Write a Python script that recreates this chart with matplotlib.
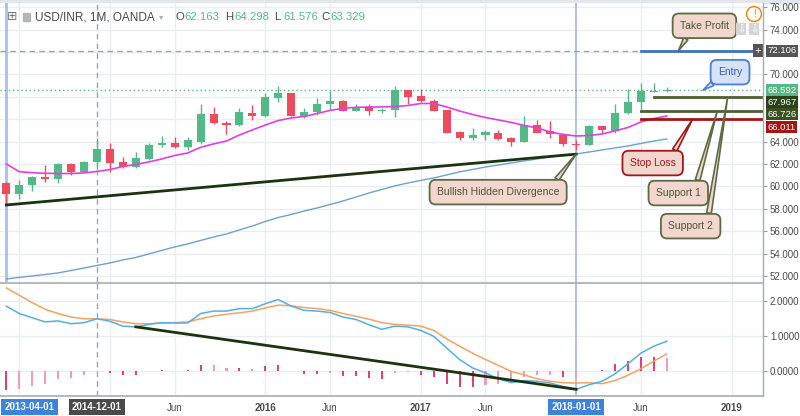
import numpy as np
import pandas as pd
import matplotlib
matplotlib.use("Agg")
import matplotlib.pyplot as plt
from matplotlib.lines import Line2D
from matplotlib.patches import Rectangle

plt.rcParams["font.family"] = ["Liberation Sans", "DejaVu Sans"]

# USD/INR monthly candles, 2014-05 .. 2018-08
opens = [60.33, 59.32, 60.10, 60.87, 60.63, 62.03, 61.30, 62.163, 63.30, 62.15,
         61.70, 62.45, 63.70, 63.90, 63.50, 64.00, 66.45, 65.70, 65.45, 66.55,
         66.25, 67.90, 68.30, 66.30, 66.60, 67.40, 67.65, 66.75, 67.10, 66.70,
         66.80, 68.60, 68.10, 67.60, 66.80, 64.85, 64.35, 64.55, 64.80, 64.30,
         64.00, 65.50, 64.90, 64.60, 63.75, 63.70, 65.35, 64.95, 66.55, 67.50,
         68.45, 68.50]
highs = [60.40, 60.60, 60.95, 61.90, 62.05, 62.10, 62.30, 64.298, 63.90, 62.60,
         63.10, 63.85, 64.50, 64.45, 64.45, 67.40, 67.05, 65.80, 67.00, 67.30,
         68.30, 69.00, 68.35, 67.00, 67.85, 68.55, 67.75, 67.40, 67.40, 67.00,
         68.95, 68.65, 68.70, 67.80, 66.85, 64.90, 65.25, 65.00, 65.00, 64.45,
         66.25, 65.90, 65.80, 64.75, 64.15, 65.45, 65.40, 67.40, 68.70, 69.20,
         69.20, 68.90]
lows = [58.34, 58.85, 59.60, 60.40, 60.30, 61.00, 61.25, 61.576, 61.30, 61.65,
        61.65, 62.35, 63.50, 63.40, 63.25, 63.80, 65.60, 64.70, 65.35, 65.90,
        66.20, 67.50, 66.25, 66.10, 66.40, 66.80, 66.70, 66.70, 66.40, 66.55,
        66.20, 67.40, 67.55, 66.70, 64.75, 64.10, 64.15, 64.15, 64.15, 63.60,
        63.95, 64.75, 64.30, 63.60, 63.25, 63.65, 64.75, 64.75, 66.50, 66.70,
        68.40, 68.40]
closes = [59.32, 60.10, 60.87, 60.63, 62.00, 61.30, 62.20, 63.329, 62.10, 61.70,
          62.50, 63.70, 63.90, 63.50, 64.10, 66.45, 65.70, 65.45, 66.60, 66.25,
          67.95, 68.30, 66.30, 66.60, 67.40, 67.65, 66.75, 67.10, 66.70, 66.80,
          68.65, 68.00, 67.60, 66.75, 64.80, 64.35, 64.60, 64.85, 64.20, 64.00,
          65.50, 64.80, 64.65, 63.75, 63.70, 65.40, 65.05, 66.55, 67.55, 68.55,
          68.50, 68.592]
ma_fast = [62.00, 61.31, 61.22, 61.17, 61.15, 61.15, 61.20, 61.33, 61.50, 61.78,
           61.96, 62.18, 62.45, 62.76, 62.98, 63.49, 63.79, 64.05, 64.59, 65.04,
           65.48, 65.88, 66.11, 66.24, 66.51, 66.78, 66.97, 67.06, 67.09, 67.09,
           67.13, 67.22, 67.40, 67.40, 67.09, 66.73, 66.42, 66.15, 65.93, 65.71,
           65.44, 65.21, 64.86, 64.63, 64.50, 64.54, 64.68, 64.95, 65.26, 65.75,
           66.06, 66.29]
ma_slow = [51.73, 51.87, 52.00, 52.13, 52.27, 52.49, 52.71, 52.94, 53.16, 53.43,
           53.65, 53.96, 54.28, 54.59, 54.86, 55.17, 55.48, 55.75, 56.11, 56.46,
           56.87, 57.22, 57.49, 57.80, 58.07, 58.38, 58.70, 59.05, 59.41, 59.72,
           60.04, 60.30, 60.53, 60.75, 61.02, 61.29, 61.51, 61.73, 61.91, 62.09,
           62.27, 62.45, 62.63, 62.76, 62.89, 63.07, 63.25, 63.43, 63.61, 63.83,
           64.05, 64.23]
macd = [1.85, 1.64, 1.52, 1.40, 1.43, 1.35, 1.38, 1.49, 1.42, 1.28,
        1.26, 1.33, 1.38, 1.37, 1.37, 1.64, 1.71, 1.71, 1.78, 1.78,
        1.92, 2.04, 1.85, 1.73, 1.71, 1.67, 1.54, 1.47, 1.32, 1.19,
        1.28, 1.26, 1.16, 0.99, 0.66, 0.33, 0.09, -0.05, -0.22, -0.33,
        -0.27, -0.29, -0.34, -0.44, -0.52, -0.39, -0.29, -0.08, 0.21, 0.51,
        0.71, 0.85]
signal = [2.37, 2.16, 1.95, 1.76, 1.64, 1.54, 1.49, 1.49, 1.47, 1.40,
          1.35, 1.35, 1.37, 1.38, 1.40, 1.49, 1.57, 1.62, 1.66, 1.71,
          1.80, 1.88, 1.86, 1.81, 1.78, 1.73, 1.64, 1.56, 1.48, 1.38,
          1.33, 1.31, 1.28, 1.16, 0.92, 0.71, 0.51, 0.33, 0.16, -0.01,
          -0.11, -0.22, -0.29, -0.33, -0.34, -0.33, -0.36, -0.27, -0.12, 0.07,
          0.28, 0.49]
hist = [-0.54, -0.50, -0.43, -0.36, -0.22, -0.20, -0.12, 0.00, -0.05, -0.12,
        -0.12, 0.00, 0.02, 0.01, 0.02, 0.18, 0.16, 0.08, 0.10, 0.06,
        0.14, 0.16, 0.00, -0.08, -0.08, -0.06, -0.15, -0.15, -0.20, -0.22,
        -0.06, -0.04, -0.10, -0.18, -0.36, -0.46, -0.46, -0.39, -0.36, -0.31,
        -0.16, -0.12, -0.10, -0.18, -0.16, 0.00, 0.04, 0.19, 0.30, 0.40,
        0.40, 0.36]

# drawn objects
take_profit = 72.106
entry = 68.592
support_2 = 67.967
support_1 = 66.726
stop_loss = 66.011
trend_t = [-7, 37]
trend_price = [58.34, 62.88]
macd_trend_t = [3, 37]
price_ticks = [52, 54, 56, 58, 60, 62, 64, 70, 74, 76]

dates = pd.date_range("2014-05-01", periods=len(opens), freq="MS")
t = np.asarray((dates.year - 2014) * 12 + dates.month - 12)  # months after 2014-12

GREEN = "#53b987"
RED = "#eb4d5c"
GRID = "#e9eef5"
TXT = "#4a4a4a"
OLIVE = "#4b5f30"

W, H = 800, 416
fig = plt.figure(figsize=(8, 4.16), dpi=100)
ax = fig.add_axes([0, 1 - 282 / H, 763 / W, 279 / H])
axm = fig.add_axes([0, 1 - 396 / H, 763 / W, 113 / H])

xlim = (-7.49, 51.43)
for a in (ax, axm):
    a.set_xlim(*xlim)
    for s in a.spines.values():
        s.set_visible(False)
    a.tick_params(axis="x", length=0)
    a.yaxis.tick_right()
    a.tick_params(axis="y", labelsize=7, colors="#999999", labelcolor=TXT,
                  length=3, pad=2)
    for gx in [-6, 1, 6, 13, 18, 25, 30, 42, 49]:
        a.axvline(gx, color=GRID, lw=1, zorder=0)
    a.axvline(37, color="#9fb9da", lw=1.2, zorder=1)
    a.axvline(0, color="#a0a3aa", lw=1, ls=(0, (4, 3)), zorder=1)

ax.set_ylim(51.46, 76.375)
ax.set_yticks(price_ticks)
ax.yaxis.set_major_formatter(matplotlib.ticker.FormatStrFormatter("%.3f"))
for gy in np.arange(52, 77, 2):
    ax.axhline(gy, color=GRID, lw=1, zorder=0)
ax.set_xticks([])
ax.axvline(-7, color="#a9c1e3", lw=2, zorder=1)
ax.axhline(take_profit, color="#a0a3aa", lw=1, ls=(0, (4, 3)), zorder=1)
ax.axhline(entry, color=GREEN, lw=1, ls=(0, (1, 2)), zorder=1)

# candles
o, h, l, c = map(np.array, (opens, highs, lows, closes))
cols = np.where(c >= o, GREEN, RED)
ax.vlines(t, l, h, colors=cols, lw=1, zorder=3)
ax.bar(t, np.maximum(np.abs(c - o), 0.06), bottom=np.minimum(o, c), width=0.62,
       color=cols, zorder=3)

ax.plot(t, ma_fast, color="#e23fe2", lw=1.2, zorder=4)
ax.plot(t, ma_slow, color="#6fa0cf", lw=1, zorder=4)
ax.plot(trend_t, trend_price, color="#1c3310", lw=2, zorder=5)

# trade levels
ax.plot([42, 50.66], [take_profit] * 2, color="#3d72c4", lw=2, zorder=5)
ax.plot([43, xlim[1]], [support_2] * 2, color=OLIVE, lw=2, zorder=5)
ax.plot([42, xlim[1]], [support_1] * 2, color=OLIVE, lw=2, zorder=5)
ax.plot([42, xlim[1]], [stop_loss] * 2, color="#a31515", lw=2, zorder=5)


def callout(a, text, xy, off, rel, fc, ec, tc):
    a.annotate(text, xy=xy, xytext=off, textcoords="offset pixels",
               ha="center", va="center", fontsize=7.5, color=tc, zorder=7,
               bbox=dict(boxstyle="round,pad=0.7,rounding_size=0.6",
                         fc=fc, ec=ec, lw=1.3),
               arrowprops=dict(arrowstyle="wedge,tail_width=0.45,shrink_factor=0.5",
                               fc=fc, ec=ec, lw=1.2, shrinkA=0, shrinkB=0,
                               relpos=rel),
               annotation_clip=False)


BOX = "#f3d6cd"
LEAF = "#5d6b45"
callout(ax, "Take Profit", (44.9, take_profit), (26, 25), (0.22, 0.0),
        BOX, LEAF, "#4a5636")
callout(ax, "Entry", (46.8, entry), (27, 18), (0.15, 0.0),
        "#d6e2f7", "#4a7fd4", "#3a5db0")
callout(ax, "Stop Loss", (46.0, stop_loss), (-40, -44), (0.88, 1.0),
        BOX, "#a01818", "#a01818")
callout(ax, "Support 1", (47.9, support_1), (-39, -82), (0.88, 1.0),
        BOX, LEAF, "#4a5636")
callout(ax, "Support 2", (48.7, support_2), (-37, -129), (0.88, 1.0),
        BOX, LEAF, "#4a5636")
callout(ax, "Bullish Hidden Divergence", (trend_t[1], trend_price[1]), (-78, -38),
        (0.93, 1.0), BOX, LEAF, "#4a5636")


def tag(a, value, color, dy, fmt="%.3f"):
    a.annotate(fmt % value, xy=(1, value), xycoords=("axes fraction", "data"),
               xytext=(4, -dy), textcoords="offset pixels", ha="left", va="center",
               fontsize=6.8, color="white", zorder=8, annotation_clip=False,
               bbox=dict(boxstyle="square,pad=0.15", fc=color, ec="none"))


tag(ax, take_profit, "#555555", 0)
tag(ax, entry, GREEN, 0)
tag(ax, support_2, "#2a4216", 5)
tag(ax, support_1, "#3a5222", 3)
tag(ax, stop_loss, "#a31515", 8)
ax.annotate("+", xy=(1, take_profit), xycoords=("axes fraction", "data"),
            xytext=(-5, 0), textcoords="offset pixels", ha="center", va="center",
            fontsize=8, color="white", annotation_clip=False, zorder=8,
            bbox=dict(boxstyle="square,pad=0.15", fc="#555555", ec="none"))

# MACD panel
axm.set_ylim(-0.71, 2.51)
axm.set_yticks([0, 1, 2])
axm.yaxis.set_major_formatter(matplotlib.ticker.FormatStrFormatter("%.4f"))
for gy in [0, 1, 2]:
    axm.axhline(gy, color=GRID, lw=1, zorder=0)
hv = np.array(hist)
grow = np.abs(hv) >= np.abs(np.r_[0, hv[:-1]])
axm.bar(t, hv, width=0.16, color=np.where(grow, "#e0407a", "#f29aba"), zorder=2)
axm.plot(t, signal, color="#f5a262", lw=1.1, zorder=3)
axm.plot(t, macd, color="#55aee6", lw=1.1, zorder=3)
axm.plot(macd_trend_t, [macd[list(t).index(v)] for v in macd_trend_t],
         color="#1c3310", lw=2, zorder=4)

axm.set_xticks([6, 13, 18, 25, 30, 42, 49])
axm.set_xticklabels(["Jun", "2016", "Jun", "2017", "Jun", "Jun", "2019"],
                    fontsize=7, color=TXT)
for lab in axm.get_xticklabels():
    if lab.get_text().isdigit():
        lab.set_fontweight("bold")
axm.tick_params(axis="x", pad=5)


def date_box(a, text, x, color, xc="data", ha="center"):
    a.annotate(text, xy=(x, 0), xycoords=(xc, "axes fraction"), xytext=(0, -11),
               textcoords="offset pixels", ha=ha, va="center", fontsize=7,
               fontweight="bold", color="white", annotation_clip=False,
               bbox=dict(boxstyle="square,pad=0.35", fc=color, ec="none"))


date_box(axm, "2013-04-01", 0.006, "#3e82dc", xc="axes fraction", ha="left")
date_box(axm, "2014-12-01", 0, "#4a4a4a")
date_box(axm, "2018-01-01", 37, "#3e82dc")

# frame lines
fig.add_artist(Rectangle((0, 1 - 3 / H), 1, 3 / H, transform=fig.transFigure,
                         color="#e3e6ec", zorder=0))
for y in (282.5, 396):
    fig.add_artist(Line2D([0, 763 / W], [1 - y / H] * 2, color="#a8abb2", lw=1.2))
fig.add_artist(Line2D([763 / W] * 2, [1 - 396 / H, 1 - 3 / H], color="#a8abb2", lw=1))


# header
def ftxt(x, y, s, **kw):
    fig.text(x / W, 1 - y / H, s, va="center", **kw)


ftxt(7, 17, "\u229e", fontsize=9, color="#777777", family="DejaVu Sans")
fig.add_artist(Rectangle((23 / W, 1 - 21 / H), 7 / W, 8 / H,
                         transform=fig.transFigure, color="#b5b5b5"))
ftxt(35, 17, "USD/INR, 1M, OANDA", fontsize=8.5, color=TXT)
ftxt(159, 17, "\u25be", fontsize=6, color="#aaaaaa", family="DejaVu Sans")
for x, k, v in [(175, "O", "62.163"), (225, "H", "64.298"),
                (274, "L", "61.576"), (321, "C", "63.329")]:
    ftxt(x, 17, k, fontsize=8.2, color=TXT)
    ftxt(x + 9, 17, v, fontsize=8.2, color=GREEN)

# small toolbar icons
ftxt(754, 14, "!", fontsize=7, color="#f57c00", ha="center",
     bbox=dict(boxstyle="circle,pad=0.25", fc="white", ec="#f57c00", lw=1))
for x in (741, 754):
    ftxt(x, 29, "\u21e9", fontsize=7, color="white", ha="center",
         family="DejaVu Sans",
         bbox=dict(boxstyle="square,pad=0.1", fc="#d5d5d5", ec="none"))

fig.savefig("out.png", dpi=100)
